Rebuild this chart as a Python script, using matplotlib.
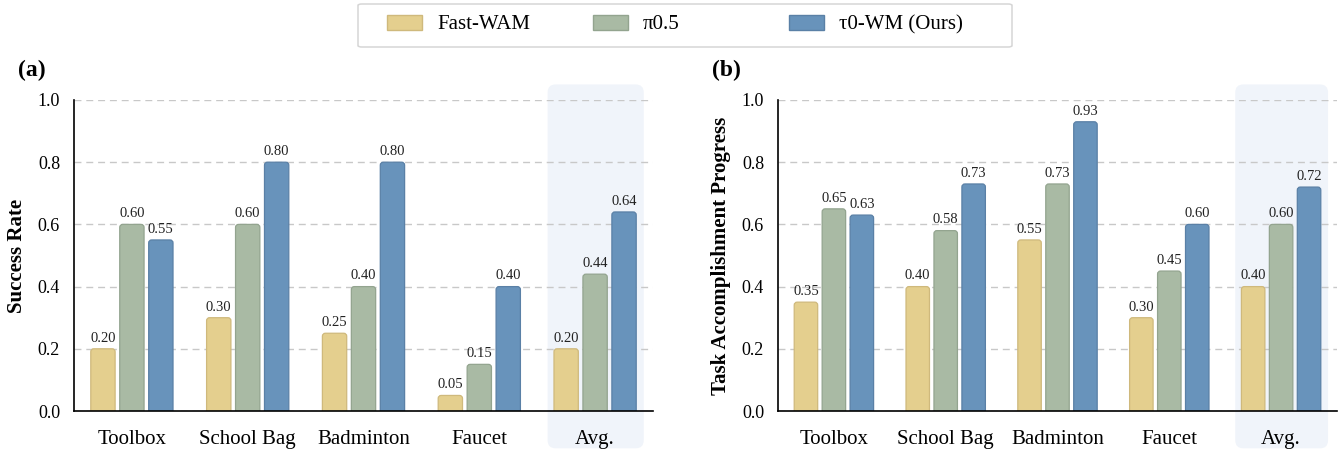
import matplotlib
matplotlib.use("Agg")
import matplotlib.pyplot as plt
from matplotlib.patches import FancyBboxPatch, Patch
import numpy as np

plt.rcParams['font.family'] = ['Liberation Serif', 'DejaVu Serif']

categories = ['Toolbox', 'School Bag', 'Badminton', 'Faucet', 'Avg.']
series_names = ['Fast-WAM', 'π0.5', 'τ0-WM (Ours)']

success_fastwam = [0.20, 0.30, 0.25, 0.05, 0.20]
success_pi05 = [0.60, 0.60, 0.40, 0.15, 0.44]
success_tau0 = [0.55, 0.80, 0.80, 0.40, 0.64]

progress_fastwam = [0.35, 0.40, 0.55, 0.30, 0.40]
progress_pi05 = [0.65, 0.58, 0.73, 0.45, 0.60]
progress_tau0 = [0.63, 0.73, 0.93, 0.60, 0.72]

yticks = [0.0, 0.2, 0.4, 0.6, 0.8, 1.0]

fills = ['#E4CF8E', '#A9BAA4', '#6893BB']
edges = ['#CFB97C', '#93A48F', '#5A80A6']
W, H = 1341, 451
fig = plt.figure(figsize=(W / 100, H / 100), dpi=100)


def px_axes(l, r, t, b):
    return fig.add_axes([l / W, 1 - b / H, (r - l) / W, (b - t) / H])


ax_a = px_axes(74, 653, 100, 411)
ax_b = px_axes(778, 1337, 100, 411)


def draw_panel(ax, data, ylabel, tag, axw_px, tag_x_px, left_px):
    x = np.arange(len(categories))
    ax.set_xlim(-0.5, len(categories) - 0.5)
    ax.set_ylim(0, 1.0)
    xu = axw_px / len(categories)      # px per x unit
    yu = 311.0                          # px per y unit
    asp = xu / yu
    ax.set_axisbelow(True)
    # highlight box around Avg.
    hb = FancyBboxPatch((x[-1] - 0.41, -0.12), 0.83, 1.17,
                        boxstyle="round,pad=0,rounding_size=%f" % (8 / xu),
                        mutation_aspect=asp, facecolor='#F0F4FA',
                        edgecolor='none', zorder=0.1, clip_on=False,
                        transform=ax.transData)
    ax.add_patch(hb)
    offsets = [-0.25, 0.0, 0.25]
    width = 0.21
    for vals, off, fc, ec in zip(data, offsets, fills, edges):
        bars = ax.bar(x + off, vals, width=width, color=fc, edgecolor=ec)
        for rect, v in zip(bars.patches, vals):
            rect.set_visible(False)
            bx, bw, bh = rect.get_x(), rect.get_width(), rect.get_height()
            p = FancyBboxPatch((bx, -0.02), bw, bh + 0.02,
                               boxstyle="round,pad=0,rounding_size=%f" % (3 / xu),
                               mutation_aspect=asp, facecolor=fc,
                               edgecolor=ec, linewidth=0.9, zorder=2)
            ax.add_patch(p)
            ax.annotate('%.2f' % v, (bx + bw / 2, bh), xytext=(0, 3),
                        textcoords='offset points', ha='center', va='bottom',
                        fontsize=10.5, color='#222222', zorder=3)
    ax.set_xticks(x)
    ax.set_xticklabels(categories, fontsize=15)
    ax.set_yticks(yticks)
    ax.set_yticklabels(['%.1f' % t for t in yticks], fontsize=13)
    ax.tick_params(axis='x', length=0, pad=14)
    ax.tick_params(axis='y', length=0, pad=10)
    ax.yaxis.grid(True, color='#C8C8C8', linestyle=(0, (5, 3.5)), linewidth=1)
    ax.xaxis.grid(False)
    for s in ['top', 'right']:
        ax.spines[s].set_visible(False)
    for s in ['left', 'bottom']:
        ax.spines[s].set_color('black')
        ax.spines[s].set_linewidth(1.2)
        ax.spines[s].set_zorder(4)
    ax.set_facecolor('none')
    ax.set_ylabel(ylabel, fontsize=15, fontweight='bold', labelpad=8)
    ax.text((tag_x_px - left_px) / axw_px, (411 - 70) / 311.0, tag,
            transform=ax.transAxes, fontsize=17,
            fontweight='bold', ha='left', va='center')


draw_panel(ax_a, [success_fastwam, success_pi05, success_tau0],
           'Success Rate', '(a)', 653 - 74, 18, 74)
draw_panel(ax_b, [progress_fastwam, progress_pi05, progress_tau0],
           'Task Accomplishment Progress', '(b)', 1337 - 778, 712, 778)

# legend frame
frame = FancyBboxPatch((358 / W, 1 - 47 / H), (1012 - 358) / W, 43 / H,
                       boxstyle="round,pad=0,rounding_size=0.003",
                       transform=fig.transFigure, facecolor='white',
                       edgecolor='#D6D6D6', linewidth=1.1)
fig.patches.append(frame)

fs = 15
fpx = fs * 100 / 72
for name, fc, ec, xs in zip(series_names, fills, edges, [387, 593, 789]):
    fig.legend(handles=[Patch(facecolor=fc, edgecolor=ec, label=name)],
               loc='center left', bbox_to_anchor=(xs / W, 1 - 24.5 / H),
               frameon=False, borderpad=0, borderaxespad=0, fontsize=fs,
               handlelength=35 / fpx, handleheight=15 / fpx,
               handletextpad=15 / fpx)

fig.savefig('out.png', dpi=100)
